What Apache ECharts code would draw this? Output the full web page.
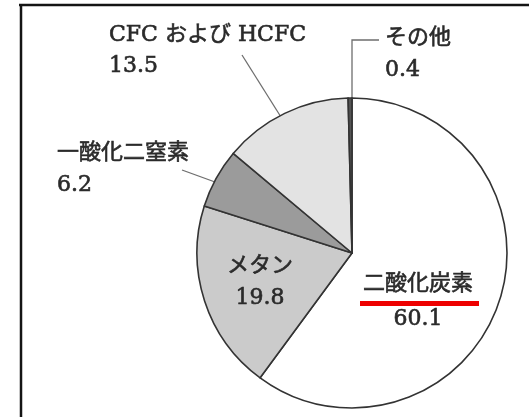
<!DOCTYPE html>
<html>
<head>
<meta charset="utf-8">
<script src="https://cdn.jsdelivr.net/npm/echarts@6/dist/echarts.min.js"></script>
<style>
  html, body { margin: 0; padding: 0; background: #fff; }
  #chart { width: 529px; height: 417px; }
</style>
</head>
<body>
<div id="chart"></div>
<script>
// 温室効果ガスの内訳 (%)
const gasNames  = ['二酸化炭素', 'メタン', '一酸化二窒素', 'CFC および HCFC', 'その他'];
const gasShares = [60.1, 19.8, 6.2, 13.5, 0.4];
const gasFills  = ['#ffffff', '#cbcbcb', '#9b9b9b', '#e3e3e3', '#555555'];

// label placement per slice: anchor point, alignment, line height, leader line
const labelSpots = [
  { x: 418, y: 267, align: 'center', lh: 35, line: null },
  { x: 260, y: 250, align: 'center', lh: 32, line: null },
  { x: 57,  y: 137, align: 'left',   lh: 32, line: [[237, 190], [182, 170]] },
  { x: 109, y: 20,  align: 'left',   lh: 31, line: [[291, 133], [242, 55]] },
  { x: 385, y: 22,  align: 'left',   lh: 32, line: [[352, 100], [352, 40], [379, 40]] }
];

const chart = echarts.init(document.getElementById('chart'), null, { renderer: 'canvas' });

const pieData = gasNames.map((name, i) => ({
  name: name,
  value: gasShares[i],
  itemStyle: { color: gasFills[i] },
  label: { lineHeight: labelSpots[i].lh },
  labelLine: { show: !!labelSpots[i].line }
}));

chart.setOption({
  animation: false,
  backgroundColor: '#ffffff',
  graphic: [
    // frame: top and left rules
    { type: 'line', shape: { x1: 19, y1: 5, x2: 529, y2: 5 }, style: { stroke: '#141414', lineWidth: 2.5 } },
    { type: 'line', shape: { x1: 21, y1: 4, x2: 21, y2: 417 }, style: { stroke: '#141414', lineWidth: 2.5 } },
    // red underline beneath the CO2 label
    { type: 'rect', z: 100, shape: { x: 360, y: 301, width: 119, height: 5 }, style: { fill: '#ee0000' } }
  ],
  series: [{
    type: 'pie',
    center: [352, 253],
    radius: 155,
    startAngle: 90,
    clockwise: true,
    avoidLabelOverlap: false,
    silent: true,
    itemStyle: { borderColor: '#333333', borderWidth: 1.6 },
    label: {
      show: true,
      position: 'outside',
      formatter: '{b}\n{c}',
      color: '#2a2a2a',
      fontSize: 22,
      fontFamily: "'DejaVu Serif', 'Noto Sans CJK JP', serif",
      textBorderColor: '#2a2a2a',
      textBorderWidth: 0.6,
      lineHeight: 32
    },
    labelLine: {
      show: true,
      lineStyle: { color: '#6e6e6e', width: 1.3 }
    },
    labelLayout: function (params) {
      const spot = labelSpots[params.dataIndex];
      const out = { x: spot.x, y: spot.y, align: spot.align, verticalAlign: 'top' };
      if (spot.line) out.labelLinePoints = spot.line;
      return out;
    },
    data: pieData
  }]
});
</script>
</body>
</html>
